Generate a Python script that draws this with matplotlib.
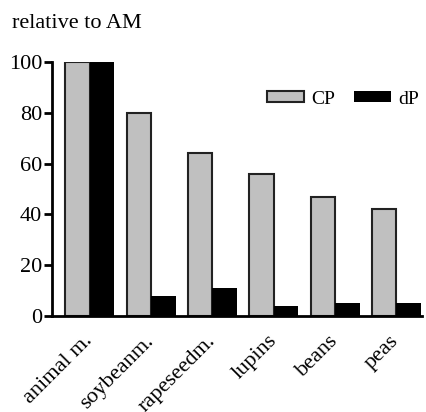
import matplotlib
matplotlib.use("Agg")
import matplotlib.pyplot as plt
import numpy as np

categories = ["animal m.", "soybeanm.", "rapeseedm.", "lupins", "beans", "peas"]
cp = [100, 80, 64, 56, 47, 42]
dp = [100, 8, 11, 4, 5, 5]
yticks = [0, 20, 40, 60, 80, 100]

plt.rcParams['font.family'] = ['Liberation Serif', 'DejaVu Serif']
fig = plt.figure(figsize=(4.27, 4.12), dpi=100)
ax = fig.add_axes([52/427, 1-316/412, (422-52)/427, (316-62)/412])

x = np.arange(len(categories))
w = 0.40
ax.bar(x - w/2, cp, width=w, color='#c0c0c0', edgecolor='#222222', linewidth=1.5, label='CP')
ax.bar(x + w/2, dp, width=w, color='black', edgecolor='black', linewidth=0, label='dP')

ax.set_xlim(-0.62, 5.42)
ax.set_ylim(0, 100)
ax.set_yticks(yticks)
ax.tick_params(axis='y', labelsize=16, width=2, length=6, direction='out', pad=1)
ax.set_xticks(x)
ax.set_xticklabels(categories, rotation=45, ha='right', va='center',
                   rotation_mode='anchor', fontsize=16)
ax.tick_params(axis='x', length=0, pad=16)
for s in ['top', 'right']:
    ax.spines[s].set_visible(False)
for s in ['left', 'bottom']:
    ax.spines[s].set_linewidth(2)

leg = ax.legend(loc='center right', ncol=2, frameon=False, fontsize=14,
                handlelength=1.9, handleheight=0.5, columnspacing=1.0,
                handletextpad=0.35, borderaxespad=0, borderpad=0,
                bbox_to_anchor=((419-52)/370, (316-99)/254))

fig.text(12/427, 1-24/412, "relative to AM", fontsize=16, va='center', ha='left')

fig.savefig("out.png", dpi=100)
